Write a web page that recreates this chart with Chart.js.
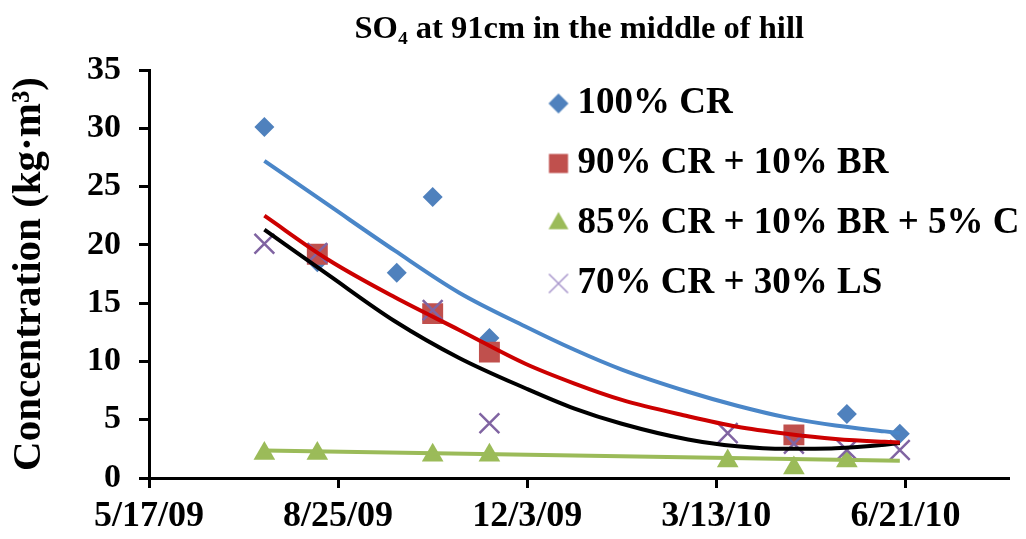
<!DOCTYPE html>
<html>
<head>
<meta charset="utf-8">
<script src="https://cdn.jsdelivr.net/npm/chart.js@4/dist/chart.umd.min.js"></script>
<style>
  body { margin: 0; background: #fff; }
  #wrap { width: 1026px; height: 539px; }
</style>
</head>
<body>
<div id="wrap"><canvas id="c"></canvas></div>
<script>
// measured points
const crDates = ['7/17/09', '8/14/09', '9/25/09', '10/14/09', '11/13/09', '5/21/10', '6/18/10'];
const crValues = [30.1, 18.5, 17.6, 24.1, 12.0, 5.5, 3.8];
const brDates = ['8/14/09', '10/14/09', '11/13/09', '4/23/10'];
const brValues = [19.2, 14.1, 10.8, 3.7];
const cDates = ['7/17/09', '8/14/09', '10/14/09', '11/13/09', '3/19/10', '4/23/10', '5/21/10'];
const cValues = [2.1, 2.1, 1.95, 1.95, 1.45, 0.85, 1.45];
const lsDates = ['7/17/09', '8/14/09', '10/14/09', '11/13/09', '3/19/10', '4/23/10', '5/21/10', '6/18/10'];
const lsValues = [20.1, 19.3, 14.4, 4.7, 3.85, 2.95, 2.4, 2.4];

// trendlines
const trendDates = ['7/17/09', '8/20/09', '9/24/09', '10/28/09', '12/2/09', '12/28/09', '1/22/10',
  '2/26/10', '3/24/10', '4/19/10', '5/15/10', '6/10/10', '6/18/10'];
const crTrend = [27.2, 23.4, 19.5, 15.9, 13.0, 11.0, 9.3, 7.4, 6.2, 5.2, 4.5, 4.0, 3.85];
const brTrend = [22.5, 18.7, 15.5, 12.7, 9.8, 8.1, 6.7, 5.3, 4.4, 3.8, 3.35, 3.1, 3.05];
const lsTrend = [21.3, 17.4, 13.45, 10.3, 7.7, 5.95, 4.65, 3.3, 2.72, 2.5, 2.55, 2.85, 3.0];
const cTrendDates = ['7/17/09', '6/18/10'];
const cTrend = [2.35, 1.48];

const labels = ['100% CR', '90% CR + 10% BR', '85% CR + 10% BR + 5% C', '70% CR + 30% LS'];
const xStart = '5/17/09';
const xSpanDays = 455;
const yTicks = [0, 5, 10, 15, 20, 25, 30, 35];

const DAY = 86400000;
function utc(s) {
    const [m, d, y] = s.split('/').map(Number);
    return Date.UTC(2000 + y, m - 1, d);
}
const t0 = utc(xStart);
const dayOf = s => Math.round((utc(s) - t0) / DAY);
function fmt(off) {
    const dt = new Date(t0 + off * DAY);
    return (dt.getUTCMonth() + 1) + '/' + dt.getUTCDate() + '/' + String(dt.getUTCFullYear()).slice(2);
}
const pts = (dates, vals) => dates.map((d, i) => ({ x: dayOf(d), y: vals[i] }));

function icon(style, r, fill, stroke, bw) {
    const c = document.createElement('canvas');
    c.width = 30; c.height = 30;
    const g = c.getContext('2d');
    g.fillStyle = fill; g.strokeStyle = stroke; g.lineWidth = bw;
    Chart.helpers.drawPoint(g, { pointStyle: style, radius: r, borderWidth: bw, rotation: 0 }, 15, 15);
    return c;
}

const serif = "'Liberation Serif', 'Times New Roman', serif";
const BLUE = '#4f81bd', RED = '#c0504d', GREEN = '#9bbb59', PURPLE = '#8064a2';

function trend(data, color, order) {
    return {
        data, showLine: true, borderColor: color, borderWidth: 4, pointRadius: 0,
        cubicInterpolationMode: 'monotone', order
    };
}

const legendIcons = [
    icon('rectRot', 10, BLUE, BLUE, 0),
    icon('rect', 13.5, RED, RED, 0),
    icon('triangle', 11.5, GREEN, GREEN, 0),
    icon('crossRot', 13.5, '#a896cc', '#a896cc', 1.5)
];

// put the legend inside the plot, top right, as in the original
const legendPlacer = {
    id: 'legendPlacer',
    afterLayout(chart) {
        const lg = chart.legend;
        lg.left = 535; lg.top = 62; lg.right = 1026; lg.bottom = 539;
        lg.width = lg.right - lg.left; lg.height = lg.bottom - lg.top;
    }
};

new Chart(document.getElementById('c'), {
    type: 'scatter',
    data: {
        datasets: [
            trend(pts(trendDates, crTrend), '#4a86c8', 0),
            trend(pts(trendDates, brTrend), '#cc0000', 0),
            trend(pts(trendDates, lsTrend), '#000000', 0),
            trend(pts(cTrendDates, cTrend), GREEN, 0),
            { label: labels[3], data: pts(lsDates, lsValues), pointStyle: 'crossRot', pointRadius: 14,
              borderColor: PURPLE, backgroundColor: PURPLE, pointBorderWidth: 2.5, order: 1 },
            { label: labels[2], data: pts(cDates, cValues), pointStyle: 'triangle', pointRadius: 12.5,
              borderColor: GREEN, backgroundColor: GREEN, pointBorderWidth: 0, order: 2 },
            { label: labels[1], data: pts(brDates, brValues), pointStyle: 'rect', pointRadius: 14.8,
              borderColor: RED, backgroundColor: RED, pointBorderWidth: 0, order: 3 },
            { label: labels[0], data: pts(crDates, crValues), pointStyle: 'rectRot', pointRadius: 10,
              borderColor: BLUE, backgroundColor: BLUE, pointBorderWidth: 0, order: 4 }
        ]
    },
    options: {
        responsive: true,
        maintainAspectRatio: false,
        animation: false,
        events: [],
        layout: { padding: { left: 0, right: 6, top: 0, bottom: 0 } },
        plugins: {
            title: {
                display: true,
                text: 'SO\u2084 at 91cm in the middle of hill',
                color: '#000',
                fullSize: false,
                font: { family: serif, size: 32.5, weight: 'bold' },
                padding: { top: 10, bottom: 21 }
            },
            legend: {
                position: 'chartArea',
                align: 'start',
                labels: {
                    color: '#000',
                    font: { family: serif, size: 37, weight: 'bold' },
                    usePointStyle: true,
                    boxWidth: 1,
                    boxHeight: 1,
                    padding: 23,
                    generateLabels: () => labels.map((t, i) => ({
                        text: t, pointStyle: legendIcons[i], fillStyle: '#000',
                        strokeStyle: '#000', lineWidth: 0, hidden: false, datasetIndex: 7 - i
                    }))
                }
            },
            tooltip: { enabled: false }
        },
        scales: {
            x: {
                type: 'linear',
                min: 0,
                max: xSpanDays,
                afterBuildTicks: s => { s.ticks = s.ticks.filter(t => t.value % 100 === 0); },
                afterFit: s => { s.height = 61; },
                ticks: {
                    stepSize: 100,
                    color: '#000',
                    padding: 7,
                    maxRotation: 0,
                    font: { family: serif, size: 36, weight: 'bold' },
                    callback: v => fmt(v)
                },
                grid: { drawOnChartArea: false, drawTicks: true, tickLength: 10, tickColor: '#000', tickWidth: 3 },
                border: { display: true, color: '#000', width: 3 }
            },
            y: {
                min: 0,
                max: 35,
                afterBuildTicks: s => { s.ticks = yTicks.map(v => ({ value: v })); },
                afterFit: s => { s.width = 149; },
                ticks: {
                    color: '#000',
                    padding: 18,
                    font: { family: serif, size: 34, weight: 'bold' }
                },
                title: {
                    display: true,
                    text: 'Concentration (kg\u00b7m\u00b3)',
                    color: '#000',
                    font: { family: serif, size: 41, weight: 'bold' },
                    padding: { top: 5, bottom: 0 }
                },
                grid: { drawOnChartArea: false, drawTicks: true, tickLength: 10, tickColor: '#000', tickWidth: 3 },
                border: { display: true, color: '#000', width: 3 }
            }
        }
    },
    plugins: [legendPlacer]
});
</script>
</body>
</html>
